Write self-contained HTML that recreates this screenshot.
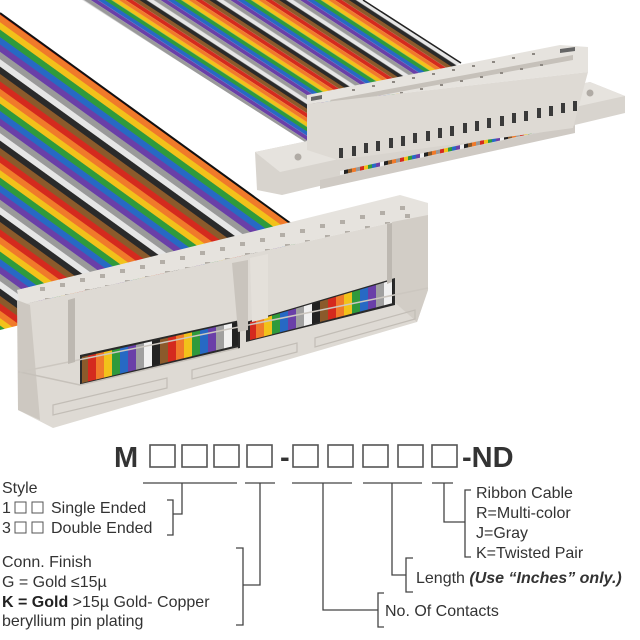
<!DOCTYPE html>
<html><head><meta charset="utf-8"><style>
html,body{margin:0;padding:0;background:#fff}
svg{display:block}
text{font-family:"Liberation Sans",Arial,sans-serif;fill:#333}
</style></head><body>
<svg width="640" height="640" viewBox="0 0 640 640" xmlns="http://www.w3.org/2000/svg">
<defs>
<pattern id="pBig" patternUnits="userSpaceOnUse" width="200" height="60" patternTransform="rotate(35.8)">
<rect y="0" width="200" height="6" fill="#8b5a2b"/><rect y="6" width="200" height="6" fill="#d42a1e"/>
<rect y="12" width="200" height="6" fill="#f07a2a"/><rect y="18" width="200" height="6" fill="#f2c21a"/>
<rect y="24" width="200" height="6" fill="#2f9a3c"/><rect y="30" width="200" height="6" fill="#2769c4"/>
<rect y="36" width="200" height="6" fill="#6a3fa8"/><rect y="42" width="200" height="6" fill="#9a9a9a"/>
<rect y="48" width="200" height="6" fill="#e6e6e6"/><rect y="54" width="200" height="6" fill="#2a2a2a"/>
</pattern>
<pattern id="pTop" patternUnits="userSpaceOnUse" width="200" height="38" patternTransform="rotate(33)">
<rect y="0" width="200" height="3.8" fill="#8b5a2b"/><rect y="3.8" width="200" height="3.8" fill="#d42a1e"/>
<rect y="7.6" width="200" height="3.8" fill="#f07a2a"/><rect y="11.4" width="200" height="3.8" fill="#f2c21a"/>
<rect y="15.2" width="200" height="3.8" fill="#2f9a3c"/><rect y="19" width="200" height="3.8" fill="#2769c4"/>
<rect y="22.8" width="200" height="3.8" fill="#6a3fa8"/><rect y="26.6" width="200" height="3.8" fill="#9a9a9a"/>
<rect y="30.4" width="200" height="3.8" fill="#e6e6e6"/><rect y="34.2" width="200" height="3.8" fill="#2a2a2a"/>
</pattern>
<pattern id="pCyl" patternUnits="userSpaceOnUse" width="80" height="100">
<rect x="0" width="8" height="100" fill="#8b5a2b"/><rect x="8" width="8" height="100" fill="#d42a1e"/>
<rect x="16" width="8" height="100" fill="#f07a2a"/><rect x="24" width="8" height="100" fill="#f2c21a"/>
<rect x="32" width="8" height="100" fill="#2f9a3c"/><rect x="40" width="8" height="100" fill="#2769c4"/>
<rect x="48" width="8" height="100" fill="#6a3fa8"/><rect x="56" width="8" height="100" fill="#a0a0a0"/>
<rect x="64" width="8" height="100" fill="#f0f0f0"/><rect x="72" width="8" height="100" fill="#222"/>
</pattern>
<pattern id="pDot" patternUnits="userSpaceOnUse" width="40" height="10">
<rect x="0" width="4" height="10" fill="#d42a1e"/><rect x="4" width="4" height="10" fill="#f2c21a"/>
<rect x="8" width="4" height="10" fill="#2f9a3c"/><rect x="12" width="4" height="10" fill="#2769c4"/>
<rect x="16" width="4" height="10" fill="#6a3fa8"/><rect x="20" width="4" height="10" fill="#eee"/>
<rect x="24" width="4" height="10" fill="#222"/><rect x="28" width="4" height="10" fill="#8b5a2b"/>
<rect x="32" width="4" height="10" fill="#f07a2a"/><rect x="36" width="4" height="10" fill="#999"/>
</pattern>
</defs>

<!-- top cable -->
<polygon points="82,0 363,0 461,63 305,142" fill="url(#pTop)"/>
<line x1="363" y1="0" x2="461" y2="63" stroke="#222" stroke-width="1.5"/>
<!-- big cable -->
<polygon points="0,13 290,223 300,260 40,320 0,330" fill="url(#pBig)"/>
<line x1="0" y1="13" x2="290" y2="223" stroke="#111" stroke-width="2"/>

<!-- top-right connector flange -->
<polygon points="255,152 590,82 625,96 625,113 282,195 257,190" fill="#d8d4ce"/>
<polygon points="255,152 590,82 625,96 280,172" fill="#e6e3de"/>
<circle cx="298" cy="157" r="3.5" fill="#b0aba5"/>
<circle cx="590" cy="93" r="3.5" fill="#b0aba5"/>
<polygon points="320,180 575,125 575,133 320,189" fill="#cfcac4"/>
<polygon points="340,171 572,121 572,125 340,175" fill="url(#pDot)"/>
<!-- block -->
<polygon points="307,95 560,45 588,47 588,72 307,104" fill="#e6e3de"/>
<polygon points="330,100 573,55 573,60 333,104" fill="#c6c1ba"/>
<polygon points="311,97 322,95 322,99 311,101" fill="#666"/>
<polygon points="560,49 575,47 575,51 560,53" fill="#666"/>
<g fill="#8d8882">
<rect x="352" y="89" width="3" height="2"/><rect x="372" y="85" width="3" height="2"/><rect x="392" y="81" width="3" height="2"/>
<rect x="412" y="77" width="3" height="2"/><rect x="432" y="73" width="3" height="2"/><rect x="452" y="69" width="3" height="2"/>
<rect x="472" y="65" width="3" height="2"/><rect x="492" y="61" width="3" height="2"/><rect x="512" y="57" width="3" height="2"/>
<rect x="532" y="53" width="3" height="2"/>
<rect x="360" y="100" width="3" height="2"/><rect x="380" y="96" width="3" height="2"/><rect x="400" y="92" width="3" height="2"/>
<rect x="420" y="88" width="3" height="2"/><rect x="440" y="84" width="3" height="2"/><rect x="460" y="80" width="3" height="2"/>
<rect x="480" y="76" width="3" height="2"/><rect x="500" y="72" width="3" height="2"/><rect x="520" y="68" width="3" height="2"/>
<rect x="540" y="64" width="3" height="2"/>
</g>
<polygon points="307,104 588,72 573,128 338,160 307,150" fill="#dedad4"/>
<g fill="#3a3a3a">
<rect x="339" y="148" width="4" height="10"/><rect x="352" y="146" width="4" height="10"/><rect x="364" y="143" width="4" height="10"/>
<rect x="376" y="141" width="4" height="10"/><rect x="389" y="138" width="4" height="10"/><rect x="401" y="136" width="4" height="10"/>
<rect x="413" y="133" width="4" height="10"/><rect x="426" y="131" width="4" height="10"/><rect x="438" y="128" width="4" height="10"/>
<rect x="450" y="126" width="4" height="10"/><rect x="463" y="123" width="4" height="10"/><rect x="475" y="121" width="4" height="10"/>
<rect x="487" y="118" width="4" height="10"/><rect x="500" y="116" width="4" height="10"/><rect x="512" y="113" width="4" height="10"/>
<rect x="524" y="111" width="4" height="10"/><rect x="537" y="108" width="4" height="10"/><rect x="549" y="106" width="4" height="10"/>
<rect x="561" y="103" width="4" height="10"/><rect x="573" y="101" width="4" height="10"/>
</g>

<!-- bottom connector -->
<polygon points="17,290 410,200 428,203 428,215 390,223 20,293" fill="#e6e3de"/>
<polygon points="17,290 400,195 428,203 428,215 390,223 20,305" fill="#e6e3de"/>
<g fill="#b3aea7">
<rect x="40" y="287" width="5" height="4"/><rect x="60" y="283" width="5" height="4"/><rect x="80" y="278" width="5" height="4"/><rect x="100" y="274" width="5" height="4"/>
<rect x="120" y="269" width="5" height="4"/><rect x="140" y="265" width="5" height="4"/><rect x="160" y="260" width="5" height="4"/><rect x="180" y="256" width="5" height="4"/>
<rect x="200" y="251" width="5" height="4"/><rect x="220" y="247" width="5" height="4"/><rect x="240" y="242" width="5" height="4"/><rect x="260" y="238" width="5" height="4"/>
<rect x="280" y="233" width="5" height="4"/><rect x="300" y="229" width="5" height="4"/><rect x="320" y="224" width="5" height="4"/><rect x="340" y="220" width="5" height="4"/>
<rect x="360" y="215" width="5" height="4"/><rect x="380" y="211" width="5" height="4"/><rect x="400" y="206" width="5" height="4"/>
<rect x="45" y="298" width="5" height="4"/><rect x="65" y="294" width="5" height="4"/><rect x="85" y="289" width="5" height="4"/><rect x="105" y="285" width="5" height="4"/>
<rect x="125" y="280" width="5" height="4"/><rect x="145" y="276" width="5" height="4"/><rect x="165" y="271" width="5" height="4"/><rect x="185" y="267" width="5" height="4"/>
<rect x="205" y="262" width="5" height="4"/><rect x="225" y="258" width="5" height="4"/><rect x="245" y="253" width="5" height="4"/><rect x="265" y="249" width="5" height="4"/>
<rect x="285" y="244" width="5" height="4"/><rect x="305" y="240" width="5" height="4"/><rect x="325" y="235" width="5" height="4"/><rect x="345" y="231" width="5" height="4"/>
<rect x="365" y="226" width="5" height="4"/><rect x="385" y="222" width="5" height="4"/><rect x="405" y="214" width="5" height="4"/>
</g>
<polygon points="20,305 390,223 428,215 428,290 417,322 53,428 18,410" fill="#dedad4"/>
<polygon points="392,222 428,215 428,290 417,322 392,300" fill="#d2cdc6"/>
<polygon points="17,300 30,305 40,420 18,410" fill="#cdc8c1"/>
<!-- cylinders -->
<polygon points="80,355 240,320 240,348 80,385" fill="#2a2a2a"/>
<polygon points="82,357 238,322 238,345 82,383" fill="url(#pCyl)"/>
<polygon points="246,322 395,278 395,305 246,342" fill="#2a2a2a"/>
<polygon points="250,322 393,280 393,303 250,340" fill="url(#pCyl)"/>
<polyline points="20,372 80,385 238,348" stroke="#c6c1ba" stroke-width="1.5" fill="none"/>
<polyline points="20,372 18,372" stroke="#c6c1ba" fill="none"/>
<line x1="20" y1="372" x2="428" y2="288" stroke="#ccc7c0" stroke-width="1.5"/>
<!-- posts and grooves -->
<polygon points="232,263 248,260 248,330 238,332" fill="#c9c4bd"/>
<polygon points="250,258 268,254 268,318 252,322" fill="#e4e0da"/>
<polygon points="68,300 75,298 75,362 68,364" fill="#bdb8b1"/>
<polygon points="387,224 392,223 392,282 387,284" fill="#bdb8b1"/>
<g fill="none" stroke="#c2bdb6" stroke-width="1.2">
<polygon points="53,405 167,378 167,388 53,415"/>
<polygon points="192,370 297,343 297,352 192,379"/>
<polygon points="315,338 415,310 415,319 315,347"/>
</g>

<!-- title -->
<text x="114" y="467" font-size="29" font-weight="bold">M</text>
<g fill="none" stroke="#555" stroke-width="1.6">
<rect x="150" y="445" width="25" height="22"/><rect x="182" y="445" width="25" height="22"/>
<rect x="214" y="445" width="25" height="22"/><rect x="247" y="445" width="25" height="22"/>
<rect x="293" y="445" width="25" height="22"/><rect x="328" y="445" width="25" height="22"/>
<rect x="363" y="445" width="25" height="22"/><rect x="398" y="445" width="25" height="22"/>
<rect x="432" y="445" width="25" height="22"/>
</g>
<text x="280" y="467" font-size="29" font-weight="bold">-</text>
<text x="462" y="467" font-size="29" font-weight="bold">-ND</text>

<!-- connectors -->
<g stroke="#444" stroke-width="1.3" fill="none">
<line x1="143" y1="483" x2="237" y2="483"/><line x1="245" y1="483" x2="275" y2="483"/>
<line x1="292" y1="483" x2="352" y2="483"/><line x1="363" y1="483" x2="422" y2="483"/>
<line x1="432" y1="483" x2="453" y2="483"/>
<polyline points="182,483 182,514 173,514"/>
<polyline points="167,500 173,500 173,535 167,535"/>
<polyline points="260,483 260,585 243,585"/>
<polyline points="236,548 243,548 243,625 236,625"/>
<polyline points="323,483 323,610 378,610"/>
<polyline points="384,593 378,593 378,627 384,627"/>
<polyline points="392,483 392,575 406,575"/>
<polyline points="413,558 406,558 406,592 413,592"/>
<polyline points="444,483 444,522 465,522"/>
<polyline points="471,490 465,490 465,557 471,557"/>
</g>

<g font-size="16">
<text x="2" y="493">Style</text>
<text x="2" y="513">1</text><text x="51" y="513">Single Ended</text>
<text x="2" y="533">3</text><text x="51" y="533">Double Ended</text>
<text x="2" y="567">Conn. Finish</text>
<text x="2" y="587">G = Gold ≤15µ</text>
<text x="2" y="607"><tspan font-weight="bold" fill="#222">K = Gold</tspan> &gt;15µ Gold- Copper</text>
<text x="2" y="626">beryllium pin plating</text>
<text x="476" y="498">Ribbon Cable</text>
<text x="476" y="518">R=Multi-color</text>
<text x="476" y="538">J=Gray</text>
<text x="476" y="558">K=Twisted Pair</text>
<text x="416" y="583">Length <tspan font-weight="bold" font-style="italic">(Use “Inches” only.)</tspan></text>
<text x="385" y="616">No. Of Contacts</text>
</g>
<g fill="none" stroke="#555" stroke-width="1">
<rect x="15" y="502" width="11" height="11"/><rect x="32" y="502" width="11" height="11"/>
<rect x="15" y="522" width="11" height="11"/><rect x="32" y="522" width="11" height="11"/>
</g>
</svg>
</body></html>
